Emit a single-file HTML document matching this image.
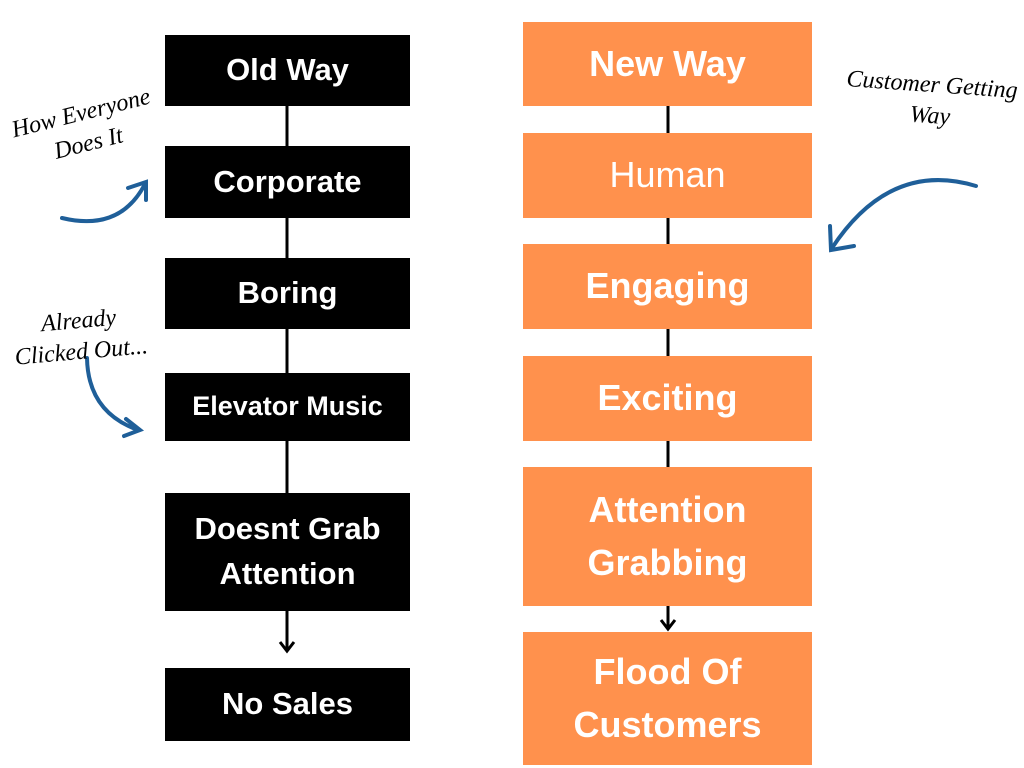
<!DOCTYPE html>
<html><head><meta charset="utf-8"><style>
body{margin:0;width:1024px;height:768px;background:#fff;position:relative;overflow:hidden;font-family:"Liberation Sans",sans-serif}
.b{position:absolute;display:flex;align-items:center;justify-content:center;text-align:center;color:#fff;font-weight:bold;line-height:1.3}
.k{background:#000;left:165px;width:245px;font-size:31px}
.o{background:#FF914D;left:523px;width:289px;font-size:36px}
.h{position:absolute;font-family:"Liberation Serif",serif;font-style:italic;font-size:24px;color:#000;text-align:center;line-height:1.3}
</style></head><body>
<svg width="1024" height="768" style="position:absolute;left:0;top:0">
<line x1="287" y1="35" x2="287" y2="650" stroke="#000" stroke-width="3"/>
<polyline points="280,642 287,651 294,642" fill="none" stroke="#000" stroke-width="3"/>
<line x1="668" y1="22" x2="668" y2="628" stroke="#000" stroke-width="3"/>
<polyline points="661,620 668,629 675,620" fill="none" stroke="#000" stroke-width="3"/>
<g fill="none" stroke="#1f5f99" stroke-width="4" stroke-linecap="round">
<path d="M62,218 Q120,232 145,184"/><polyline points="128,188 146,182 146,200"/>
<path d="M87,358 Q88,412 138,430"/><polyline points="126,419 140,430 124,436"/>
<path d="M976,186 Q890,160 832,248"/><polyline points="830,226 831,250 854,246"/>
</g></svg>
<div class="b k" style="top:35px;height:71px">Old Way</div>
<div class="b k" style="top:146px;height:72px">Corporate</div>
<div class="b k" style="top:258px;height:71px">Boring</div>
<div class="b k" style="top:373px;height:68px;font-size:27px">Elevator Music</div>
<div class="b k" style="top:493px;height:118px;line-height:1.45">Doesnt Grab<br>Attention</div>
<div class="b k" style="top:668px;height:73px">No Sales</div>
<div class="b o" style="top:22px;height:84px">New Way</div>
<div class="b o" style="top:133px;height:85px;font-weight:normal">Human</div>
<div class="b o" style="top:244px;height:85px">Engaging</div>
<div class="b o" style="top:356px;height:85px">Exciting</div>
<div class="b o" style="top:467px;height:139px;line-height:1.45">Attention<br>Grabbing</div>
<div class="b o" style="top:632px;height:133px;line-height:1.45">Flood Of<br>Customers</div>
<div class="h" style="left:0px;top:98px;width:170px;transform:rotate(-14deg)">How Everyone<br>Does It</div>
<div class="h" style="left:-4px;top:306px;width:168px;transform:rotate(-5deg)">Already<br>Clicked Out...</div>
<div class="h" style="left:826px;top:70px;width:210px;transform:rotate(4deg)">Customer Getting<br>Way</div>
</body></html>
